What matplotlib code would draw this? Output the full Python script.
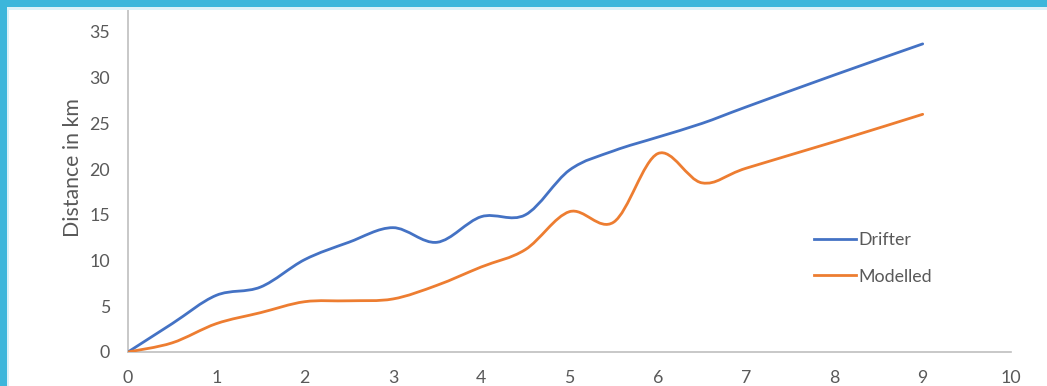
import numpy as np
import matplotlib
matplotlib.use("Agg")
import matplotlib.pyplot as plt
from matplotlib.path import Path
from matplotlib.patches import PathPatch, Rectangle
from matplotlib.lines import Line2D

# datos
horas = [0, 0.5, 1, 1.5, 2, 2.5, 3, 3.5, 4, 4.5, 5, 5.5, 6, 6.5, 7, 8, 9]
drifter = [0, 3.1, 6.2, 7.1, 10.1, 12.0, 13.6, 12.0, 14.8, 15.0, 19.9, 22.0, 23.5, 25.0, 26.8, 30.3, 33.7]
modelled = [0, 1.0, 3.1, 4.3, 5.5, 5.6, 5.8, 7.3, 9.3, 11.2, 15.35, 14.2, 21.7, 18.5, 20.1, 23.0, 26.0]
x_ticks = list(range(0, 11))
y_ticks = list(range(0, 40, 5))

AZUL = '#4472C4'
NARANJA = '#ED7D31'
GRIS = '#595959'


def curva_suave(xs, ys):
    # bezier tipo Excel (catmull-rom / 6)
    p = np.column_stack([xs, ys]).astype(float)
    n = len(p)
    verts = [p[0]]
    codes = [Path.MOVETO]
    for i in range(n - 1):
        p0 = p[i - 1] if i > 0 else p[i]
        p3 = p[i + 2] if i + 2 < n else p[i + 1]
        c1 = p[i] + (p[i + 1] - p0) / 6.0
        c2 = p[i + 1] - (p3 - p[i]) / 6.0
        verts += [c1, c2, p[i + 1]]
        codes += [Path.CURVE4] * 3
    return Path(verts, codes)


fig = plt.figure(figsize=(10.47, 3.86), dpi=100)
plt.rcParams['font.family'] = ['Lato', 'DejaVu Sans']

ax = fig.add_axes([128 / 1047, 1 - 352 / 386, (1011 - 128) / 1047, (352 - 10) / 386])

for xs, ys, color in [(horas, drifter, AZUL), (horas, modelled, NARANJA)]:
    patch = PathPatch(curva_suave(xs, ys), facecolor='none', edgecolor=color,
                      lw=2.0, capstyle='round', joinstyle='round', zorder=3)
    ax.add_patch(patch)

ax.set_xlim(0, 10)
ax.set_ylim(0, 35 * 342 / 320)
ax.set_xticks(x_ticks)
ax.set_yticks(y_ticks)
ax.tick_params(length=0, labelsize=12.8, colors=GRIS)
ax.tick_params(axis='x', pad=13)
ax.tick_params(axis='y', pad=13)
for lado in ['top', 'right']:
    ax.spines[lado].set_visible(False)
for lado in ['left', 'bottom']:
    ax.spines[lado].set_color('#BFBFBF')
    ax.spines[lado].set_linewidth(1.2)

fig.text(73 / 1047, 1 - 168 / 386, 'Distance in km', rotation=90, ha='center', va='center',
         fontsize=15.3, color=GRIS)

handles = [Line2D([], [], color=AZUL, lw=2.0), Line2D([], [], color=NARANJA, lw=2.0)]
fig.legend(handles, ['Drifter', 'Modelled'], loc='upper left',
           bbox_to_anchor=(807 / 1047, 1 - 225 / 386), frameon=False,
           fontsize=12.8, labelcolor=GRIS, handlelength=2.35, handletextpad=0.12,
           labelspacing=1.15, borderaxespad=0)

# marco azul de la diapositiva
fig.patches.append(Rectangle((0, 1 - 7.5 / 386), 1, 7.5 / 386, transform=fig.transFigure,
                             facecolor='#3DB6DB', edgecolor='none', zorder=10))
fig.patches.append(Rectangle((0, 0), 6.5 / 1047, 1, transform=fig.transFigure,
                             facecolor='#3DB6DB', edgecolor='none', zorder=10))
fig.patches.append(Rectangle((6.5 / 1047, 0), 2 / 1047, 1 - 7.5 / 386, transform=fig.transFigure,
                             facecolor='#DDF1F8', edgecolor='none', zorder=10))
fig.patches.append(Rectangle((6.5 / 1047, 1 - 9.5 / 386), 1, 2 / 386, transform=fig.transFigure,
                             facecolor='#DDF1F8', edgecolor='none', zorder=10))

fig.savefig('out.png', dpi=100)
